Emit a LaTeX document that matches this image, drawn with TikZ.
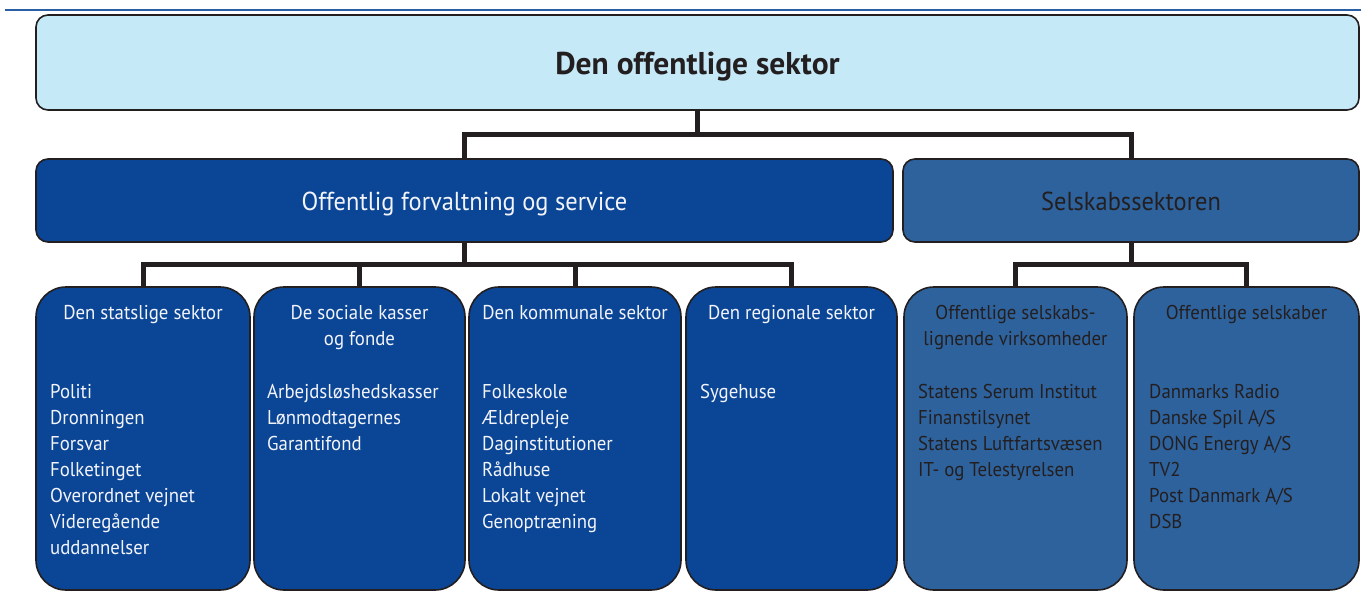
\documentclass[tikz,border=0pt]{standalone}
\usepackage{fontspec}
\setmainfont{PT Sans}[FakeStretch=0.94]
\newfontfamily\boldtitle{PT Sans}[UprightFont={* Bold}]
\usetikzlibrary{calc}
\definecolor{topfill}{HTML}{C6E9F8}
\definecolor{dblue}{HTML}{0B4595}
\definecolor{mblue}{HTML}{2E629D}
\definecolor{edgec}{HTML}{231F20}
\definecolor{rulec}{HTML}{2A5EA5}
\definecolor{wtext}{HTML}{F2F4FA}
\begin{document}
\begin{tikzpicture}[x=1pt,y=-1pt,
  box/.style={draw=edgec, line width=1.6pt, inner sep=0pt, outer sep=0pt, anchor=north west},
  topbox/.style={box, fill=topfill, rounded corners=12pt},
  midbox/.style={box, rounded corners=12pt},
  lowbox/.style={box, rounded corners=30pt, minimum height=303pt},
  gov/.style={fill=dblue},
  comp/.style={fill=mblue},
  conn/.style={draw=edgec, line width=5pt},
  hdr/.style={inner sep=0pt, anchor=north, align=center, font=\fontsize{20}{26}\selectfont},
  lst/.style={inner sep=0pt, anchor=north west, align=left, font=\fontsize{20}{26}\selectfont},
  wt/.style={text=wtext},
  dt/.style={text=edgec}]
\useasboundingbox (0,0) rectangle (1361,603);
\draw[rulec, line width=2pt] (5,10) -- (1361,10);

% boxes
\node[topbox, minimum width=1323pt, minimum height=95pt] (top) at (36,15) {};
\node[midbox, gov, minimum width=857pt, minimum height=83pt] (forv) at (36,159) {};
\node[midbox, comp, minimum width=456pt, minimum height=83pt] (selsk) at (903,159) {};
\node[lowbox, gov, minimum width=214pt] (b1) at (36,287) {};
\node[lowbox, gov, minimum width=211pt] (b2) at (254,287) {};
\node[lowbox, gov, minimum width=212pt] (b3) at (469,287) {};
\node[lowbox, gov, minimum width=211pt] (b4) at (686,287) {};
\node[lowbox, comp, minimum width=223pt] (b5) at (904,287) {};
\node[lowbox, comp, minimum width=225pt] (b6) at (1134,287) {};

% connectors
\draw[conn] (top.south) -- ++(0,24) coordinate (j0);
\draw[conn] (forv.north) |- (j0) -| (selsk.north);
\draw[conn] (forv.south) -- ++(0,22) coordinate (j1);
\draw[conn] (b1.north) |- (j1) -| (b4.north);
\draw[conn] (b2.north) -- (b2.north |- j1);
\draw[conn] (b3.north) -- (b3.north |- j1);
\draw[conn] (selsk.south) -- ++(0,22) coordinate (j2);
\draw[conn] (b5.north) |- (j2) -| (b6.north);

% texts
\node[inner sep=0pt, anchor=base, text=edgec, font=\fontsize{31.5}{36}\boldtitle] (ttop) at ($(top.center)+(0,11.5)$) {Den offentlige sektor};
\node[inner sep=0pt, anchor=base, wt, font=\fontsize{26}{32}\selectfont] (tforv) at ($(forv.center)+(0,9.5)$) {Offentlig forvaltning og service};
\node[inner sep=0pt, anchor=base, dt, font=\fontsize{26}{32}\selectfont] (tselsk) at ($(selsk.center)+(0,9.5)$) {Selskabssektoren};

\node[hdr, wt] (h1) at ($(b1.north)+(0,13.8)$) {\strut Den statslige sektor};
\node[hdr, wt] (h2) at ($(b2.north)+(0,13.8)$) {\strut De sociale kasser\\og fonde};
\node[hdr, wt] (h3) at ($(b3.north)+(0,13.8)$) {\strut Den kommunale sektor};
\node[hdr, wt] (h4) at ($(b4.north)+(0,13.8)$) {\strut Den regionale sektor};
\node[hdr, dt] (h5) at ($(b5.north)+(0,13.8)$) {\strut Offentlige selskabs-\\lignende virksomheder};
\node[hdr, dt] (h6) at ($(b6.north)+(0,13.8)$) {\strut Offentlige selskaber};

\node[lst, wt] (l1) at ($(b1.north west)+(14,92.8)$) {\strut Politi\\Dronningen\\Forsvar\\Folketinget\\Overordnet vejnet\\Videregående\\uddannelser};
\node[lst, wt] (l2) at ($(b2.north west)+(13,92.8)$) {\strut Arbejdsløshedskasser\\Lønmodtagernes\\Garantifond};
\node[lst, wt] (l3) at ($(b3.north west)+(13,92.8)$) {\strut Folkeskole\\Ældrepleje\\Daginstitutioner\\Rådhuse\\Lokalt vejnet\\Genoptræning};
\node[lst, wt] (l4) at ($(b4.north west)+(14,92.8)$) {\strut Sygehuse};
\node[lst, dt] (l5) at ($(b5.north west)+(14,92.8)$) {\strut Statens Serum Institut\\Finanstilsynet\\Statens Luftfartsvæsen\\IT- og Telestyrelsen};
\node[lst, dt] (l6) at ($(b6.north west)+(15,92.8)$) {\strut Danmarks Radio\\Danske Spil A/S\\DONG Energy A/S\\TV2\\Post Danmark A/S\\DSB};
\end{tikzpicture}
\end{document}
